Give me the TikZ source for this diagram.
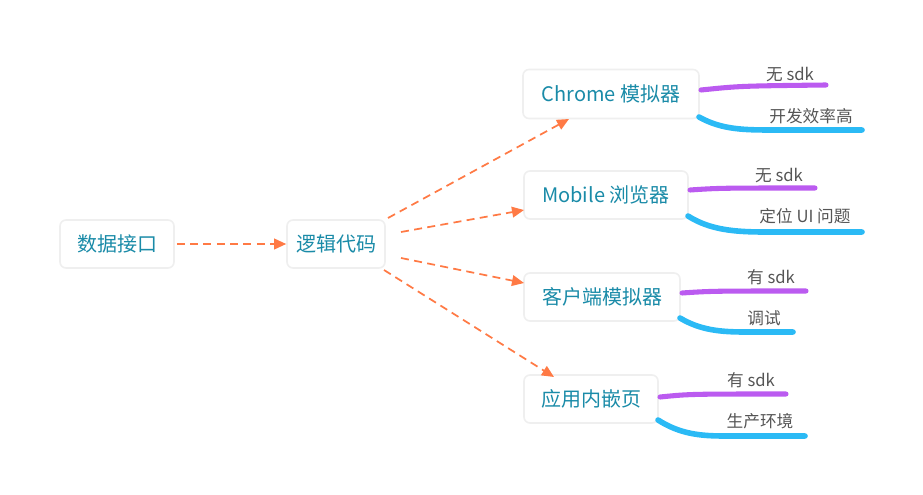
\documentclass[tikz,border=0pt]{standalone}
\usepackage{fontspec}
\setmainfont{Noto Sans CJK SC}
\usetikzlibrary{arrows.meta}
\definecolor{boxtext}{HTML}{1A8BA8}
\definecolor{boxline}{HTML}{EFEFEF}
\definecolor{arr}{HTML}{FF7A45}
\definecolor{purp}{HTML}{BB5BF0}
\definecolor{blu}{HTML}{2BBAF5}
\definecolor{lbl}{HTML}{555555}
\tikzset{
  box/.style={draw=boxline, line width=1.2pt, fill=white, rounded corners=4.5pt,
    text=boxtext, font=\fontsize{15}{18}\selectfont, minimum height=36pt, inner sep=0pt},
  flow/.style={draw=arr, line width=1.3pt, dash pattern=on 6pt off 4pt,
    -{Triangle[length=9pt,width=8pt]}},
  pbranch/.style={draw=purp, line width=3.8pt, line cap=round},
  bbranch/.style={draw=blu, line width=4.2pt, line cap=round},
  lab/.style={text=lbl, font=\fontsize{12.5}{15}\selectfont, inner sep=0pt}
}
\begin{document}
\begin{tikzpicture}[x=0.75pt,y=-0.75pt]
\useasboundingbox (0,0) rectangle (923,495);
\node[box, minimum width=85.5pt] (src) at (117,244) {数据接口};
\node[box, minimum width=73.5pt] (logic) at (336,244) {逻辑代码};
\node[box, minimum width=132pt, minimum height=36.75pt] (chrome) at (611,94) {Chrome 模拟器};
\node[box, minimum width=123pt] (mobile) at (606,195) {Mobile 浏览器};
\node[box, minimum width=117pt] (client) at (602,297) {客户端模拟器};
\node[box, minimum width=100.5pt] (embed) at (591,399) {应用内嵌页};

% flow arrows
\coordinate (l1) at (388,218);
\coordinate (l2) at (401,232);
\coordinate (l3) at (401,258);
\coordinate (l4) at (384,270);
\coordinate (t1) at (569,119);
\coordinate (t2) at (524,210);
\coordinate (t3) at (524,283);
\coordinate (t4) at (554,377);
\draw[flow] (src.east) ++(2,0) coordinate (s0) -- (logic.west);
\draw[flow] (l1) -- (t1);
\draw[flow] (l2) -- (t2);
\draw[flow] (l3) -- (t3);
\draw[flow] (l4) -- (t4);

% Chrome branches
\coordinate (cp0) at (701,90); \coordinate (cp1) at (826,85);
\coordinate (cb0) at (699,117); \coordinate (cb1) at (862,130);
\draw[pbranch] (cp0) .. controls (740,86) .. (cp1);
\draw[bbranch] (cb0) .. controls (722,130) and (745,130) .. (775,130) -- (cb1);
\node[lab] (c1) at (790,75) {无 sdk};
\node[lab] (c2) at (811,116) {开发效率高};

% Mobile branches
\coordinate (mp0) at (690,190); \coordinate (mp1) at (815,188);
\coordinate (mb0) at (688,216); \coordinate (mb1) at (862,232);
\draw[pbranch] (mp0) .. controls (720,188) .. (mp1);
\draw[bbranch] (mb0) .. controls (710,230) and (735,232) .. (765,232) -- (mb1);
\node[lab] (m1) at (779,176) {无 sdk};
\node[lab] (m2) at (805,216) {定位 UI 问题};

% Client branches
\coordinate (kp0) at (682,293); \coordinate (kp1) at (806,291);
\coordinate (kb0) at (680,318); \coordinate (kb1) at (793,332);
\draw[pbranch] (kp0) .. controls (712,291) .. (kp1);
\draw[bbranch] (kb0) .. controls (700,330) and (720,332) .. (745,332) -- (kb1);
\node[lab] (k1) at (771,277) {有 sdk};
\node[lab] (k2) at (764,318) {调试};

% Embed branches
\coordinate (ep0) at (660,397); \coordinate (ep1) at (786,394);
\coordinate (eb0) at (658,420); \coordinate (eb1) at (805,436);
\draw[pbranch] (ep0) .. controls (690,394) .. (ep1);
\draw[bbranch] (eb0) .. controls (680,434) and (700,436) .. (725,436) -- (eb1);
\node[lab] (e1) at (751,380) {有 sdk};
\node[lab] (e2) at (760,421) {生产环境};
\end{tikzpicture}
\end{document}
